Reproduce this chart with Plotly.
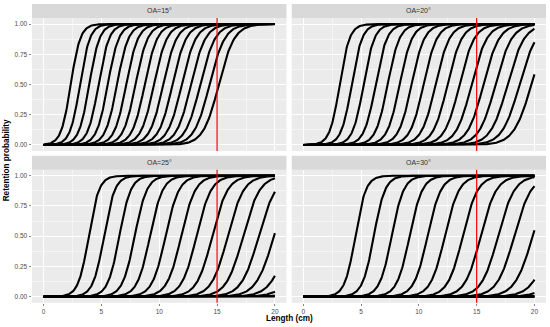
import numpy as np
import plotly.graph_objects as go

# ---- data (logistic retention curves) ----
panel_titles = ["OA=15°", "OA=20°", "OA=25°", "OA=30°"]

# length at 50% retention for each curve, per panel (cm)
l50_oa15 = [2.35, 3.15, 3.95, 4.75, 5.55, 6.35, 7.15, 7.95, 8.75, 9.55, 10.35, 11.15, 11.95, 12.75, 13.55, 14.35, 15.15]
l50_oa20 = [3.15, 4.19, 5.22, 6.26, 7.30, 8.34, 9.37, 10.41, 11.45, 12.48, 13.52, 14.56, 15.59, 16.63, 17.67, 18.71, 19.74]
l50_oa25 = [3.90, 5.22, 6.55, 7.88, 9.20, 10.55, 11.90, 13.22, 14.58, 15.92, 17.25, 18.60, 19.92, 21.25, 22.60, 23.90, 25.25]
l50_oa30 = [4.50, 6.10, 7.65, 9.20, 10.75, 12.25, 13.80, 15.35, 16.85, 18.25, 19.85, 21.45, 22.90, 24.45, 26.00, 27.50, 29.05]

# selection range (L75 - L25) for each curve, per panel (cm)
sr_oa15 = [0.91, 0.94, 0.98, 1.01, 1.05, 1.09, 1.12, 1.16, 1.19, 1.23, 1.27, 1.30, 1.34, 1.37, 1.41, 1.45, 1.48]
sr_oa20 = [0.94, 0.99, 1.03, 1.08, 1.13, 1.18, 1.22, 1.27, 1.32, 1.36, 1.41, 1.46, 1.50, 1.55, 1.60, 1.64, 1.69]
sr_oa25 = [0.98, 1.03, 1.09, 1.15, 1.21, 1.27, 1.34, 1.39, 1.46, 1.52, 1.58, 1.64, 1.70, 1.76, 1.82, 1.88, 1.94]
sr_oa30 = [1.00, 1.07, 1.14, 1.21, 1.28, 1.35, 1.42, 1.49, 1.56, 1.62, 1.69, 1.76, 1.83, 1.90, 1.97, 2.04, 2.11]

length_min, length_max = 0.0, 20.0
reference_length = 15.0

x_ticks = [0, 5, 10, 15, 20]
y_ticks = [0.0, 0.25, 0.5, 0.75, 1.0]

panels = [
    (l50_oa15, sr_oa15),
    (l50_oa20, sr_oa20),
    (l50_oa25, sr_oa25),
    (l50_oa30, sr_oa30),
]

# ---- layout geometry ----
W, H = 550, 327
ML, MR, MT, MB = 32, 4, 3, 24
xdoms = [[0.0, 0.4951], [0.5053, 1.0]]
ydom_top = [0.5067, 0.95]
ydom_bot = [0.0008, 0.4445]
strip_top = [0.95, 0.997]
strip_bot = [0.4445, 0.491]

FONT = "Liberation Sans, Arial, sans-serif"

fig = go.Figure()
xs = np.linspace(length_min, length_max, 401)

for p, (l50s, srs) in enumerate(panels):
    ax = "" if p == 0 else str(p + 1)
    for l50, sr in zip(l50s, srs):
        k = 2.0 * np.log(3.0) / sr
        ys = 1.0 / (1.0 + np.exp(-k * (xs - l50)))
        fig.add_trace(go.Scatter(
            x=xs, y=ys, mode="lines",
            line=dict(color="black", width=2.1),
            xaxis="x" + ax, yaxis="y" + ax,
            showlegend=False, hoverinfo="skip"))

layout = dict(
    width=W, height=H,
    margin=dict(l=ML, r=MR, t=MT, b=MB, pad=0),
    paper_bgcolor="white",
    plot_bgcolor="#EBEBEB",
    font=dict(family=FONT, color="#4D4D4D", size=6.5),
    showlegend=False,
)

shapes = []
annotations = []
for p in range(4):
    row, col = divmod(p, 2)
    ax = "" if p == 0 else str(p + 1)
    ydom = ydom_top if row == 0 else ydom_bot
    sdom = strip_top if row == 0 else strip_bot
    bottom = row == 1
    left = col == 0
    layout["xaxis" + ax] = dict(
        domain=xdoms[col], range=[-1, 21], anchor="y" + ax,
        tickmode="array", tickvals=x_ticks, ticktext=[str(v) for v in x_ticks],
        showticklabels=bottom, ticks="outside" if bottom else "",
        ticklen=2.5, tickwidth=0.6, tickcolor="#333333",
        tickfont=dict(size=6.5, color="#4D4D4D", family=FONT),
        showgrid=True, gridcolor="white", gridwidth=1,
        minor=dict(tickvals=[2.5, 7.5, 12.5, 17.5], showgrid=True, gridcolor="white", gridwidth=0.5, ticks=""),
        zeroline=False, showline=False, automargin=False, fixedrange=True,
    )
    layout["yaxis" + ax] = dict(
        domain=ydom, range=[-0.05, 1.05], anchor="x" + ax,
        tickmode="array", tickvals=y_ticks, ticktext=["%.2f" % v for v in y_ticks],
        showticklabels=left, ticks="outside" if left else "",
        ticklen=2.5, tickwidth=0.6, tickcolor="#333333",
        tickfont=dict(size=6.5, color="#4D4D4D", family=FONT),
        showgrid=True, gridcolor="white", gridwidth=1,
        minor=dict(tickvals=[0.125, 0.375, 0.625, 0.875], showgrid=True, gridcolor="white", gridwidth=0.5, ticks=""),
        zeroline=False, showline=False, automargin=False, fixedrange=True,
    )
    # strip
    shapes.append(dict(type="rect", xref="paper", yref="paper",
                       x0=xdoms[col][0], x1=xdoms[col][1], y0=sdom[0], y1=sdom[1],
                       fillcolor="#D9D9D9", line=dict(width=0), layer="below"))
    annotations.append(dict(text=panel_titles[p], xref="paper", yref="paper",
                            x=(xdoms[col][0] + xdoms[col][1]) / 2, y=(sdom[0] + sdom[1]) / 2,
                            xanchor="center", yanchor="middle", showarrow=False,
                            font=dict(size=7, color="#333333", family=FONT)))
    # reference vertical line
    shapes.append(dict(type="line", xref="x" + ax, yref="y" + ax + " domain",
                       x0=reference_length, x1=reference_length, y0=0, y1=1,
                       line=dict(color="#FF0000", width=1.2), layer="above"))

annotations.append(dict(text="<b>Length (cm)</b>", xref="paper", yref="paper",
                        x=0.5, y=-0.052, xanchor="center", yanchor="middle", showarrow=False,
                        font=dict(size=8.2, color="black", family=FONT)))
annotations.append(dict(text="<b>Retention probability</b>", xref="paper", yref="paper",
                        x=-0.049, y=0.475, xanchor="center", yanchor="middle", showarrow=False,
                        textangle=-90, font=dict(size=8.2, color="black", family=FONT)))

layout["shapes"] = shapes
layout["annotations"] = annotations
fig.update_layout(**layout)
fig.write_html("out.html",
               config={"displayModeBar": False, "staticPlot": True},
               post_script="document.body.style.margin='0';document.body.style.padding='0';")
